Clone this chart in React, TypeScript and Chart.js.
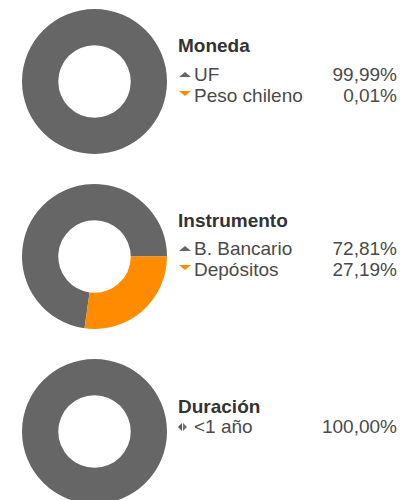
import React, { useEffect, useRef } from "react";
import { Chart, registerables } from "chart.js";

Chart.register(...registerables);

const GRAY = "#666666";
const ORANGE = "#FF8C00";

const monedaLabels = ["UF", "Peso chileno"];
const monedaValues = [99.99, 0.01];
const monedaText = ["99,99%", "0,01%"];

const instrumentoLabels = ["B. Bancario", "Depósitos"];
const instrumentoValues = [72.81, 27.19];
const instrumentoText = ["72,81%", "27,19%"];

const duracionLabels = ["<1 año"];
const duracionValues = [100];
const duracionText = ["100,00%"];

const FONT = '"Liberation Sans", Arial, Helvetica, sans-serif';

function Donut({ values, colors, top }: { values: number[]; colors: string[]; top: number }) {
  const ref = useRef<HTMLCanvasElement | null>(null);
  useEffect(() => {
    if (!ref.current) return;
    const sum = values.reduce((a, b) => a + b, 0);
    const chart = new Chart(ref.current, {
      type: "doughnut",
      data: {
        labels: values.map((_, i) => String(i)),
        datasets: [
          {
            data: values,
            backgroundColor: colors,
            borderWidth: 0,
            hoverOffset: 0,
            offset: 0,
          },
        ],
      },
      options: {
        responsive: false,
        maintainAspectRatio: false,
        animation: false,
        cutout: "50%",
        rotation: 90 - (values[0] / sum) * 360,
        plugins: { legend: { display: false }, tooltip: { enabled: false } },
        events: [],
        layout: { padding: 0 },
      },
    });
    return () => chart.destroy();
  }, []);
  return (
    <canvas
      ref={ref}
      width={145}
      height={145}
      style={{ position: "absolute", left: 22, top, width: 145, height: 145 }}
    />
  );
}

function Tri({ dir, color, left, top }: { dir: "up" | "down"; color: string; left: number; top: number }) {
  const s: React.CSSProperties = {
    position: "absolute",
    left,
    top,
    width: 0,
    height: 0,
    borderLeft: "6.5px solid transparent",
    borderRight: "6.5px solid transparent",
  };
  if (dir === "up") s.borderBottom = `5px solid ${color}`;
  else s.borderTop = `5px solid ${color}`;
  return <div style={s} />;
}

function LR({ left, top }: { left: number; top: number }) {
  return (
    <>
      <div
        style={{
          position: "absolute",
          left,
          top,
          width: 0,
          height: 0,
          borderTop: "4px solid transparent",
          borderBottom: "4px solid transparent",
          borderRight: `4px solid #5a5a5a`,
        }}
      />
      <div
        style={{
          position: "absolute",
          left: left + 5,
          top,
          width: 0,
          height: 0,
          borderTop: "4px solid transparent",
          borderBottom: "4px solid transparent",
          borderLeft: `4px solid #6e6e6e`,
        }}
      />
    </>
  );
}

const textBase: React.CSSProperties = {
  position: "absolute",
  fontFamily: FONT,
  fontSize: "19px",
  lineHeight: "21px",
  whiteSpace: "nowrap",
};

function Title({ text, top }: { text: string; top: number }) {
  return <div style={{ ...textBase, left: 178, top, fontWeight: "bold", color: "#333" }}>{text}</div>;
}

function Row({ label, value, top }: { label: string; value: string; top: number }) {
  return (
    <>
      <div style={{ ...textBase, left: 194, top, color: "#4a4a4a" }}>{label}</div>
      <div style={{ ...textBase, right: 414 - 397, top, color: "#4a4a4a", textAlign: "right" }}>{value}</div>
    </>
  );
}

export default function App() {
  return (
    <div
      style={{
        position: "absolute",
        left: 0,
        top: 0,
        width: 414,
        height: 500,
        overflow: "hidden",
        background: "#fff",
      }}
    >
      <Donut values={monedaValues} colors={[GRAY, ORANGE]} top={9} />
      <Title text="Moneda" top={34.5} />
      <Tri dir="up" color={GRAY} left={179} top={72} />
      <Row label={monedaLabels[0]} value={monedaText[0]} top={63.5} />
      <Tri dir="down" color={ORANGE} left={179} top={90.5} />
      <Row label={monedaLabels[1]} value={monedaText[1]} top={84.5} />

      <Donut values={instrumentoValues} colors={[GRAY, ORANGE]} top={184} />
      <Title text="Instrumento" top={209.5} />
      <Tri dir="up" color={GRAY} left={179} top={246} />
      <Row label={instrumentoLabels[0]} value={instrumentoText[0]} top={237.5} />
      <Tri dir="down" color={ORANGE} left={179} top={264.5} />
      <Row label={instrumentoLabels[1]} value={instrumentoText[1]} top={258.8} />

      <Donut values={duracionValues} colors={[GRAY]} top={359} />
      <Title text="Duración" top={395.8} />
      <LR left={178} top={423} />
      <Row label={duracionLabels[0]} value={duracionText[0]} top={416} />
    </div>
  );
}
